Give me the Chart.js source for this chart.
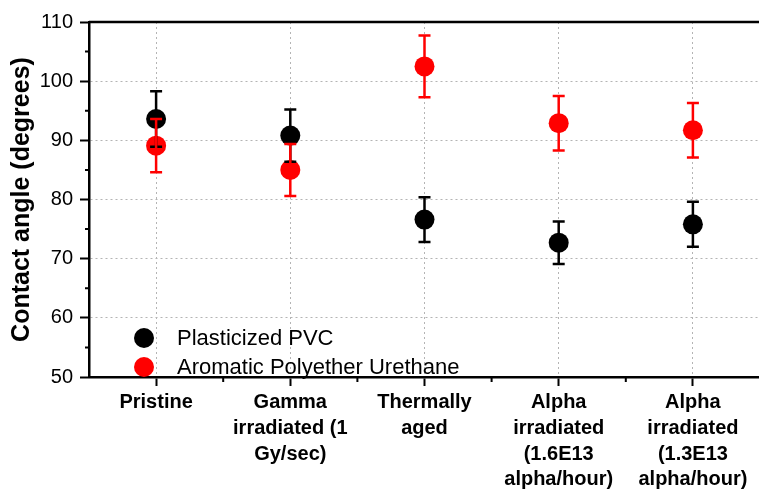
<!DOCTYPE html>
<html>
<head>
<meta charset="utf-8">
<script src="https://cdn.jsdelivr.net/npm/chart.js@4.4.0/dist/chart.umd.min.js"></script>
<style>
  html, body { margin: 0; padding: 0; background: #fff; overflow: hidden; }
  #wrap { position: relative; width: 770px; height: 490px; }
</style>
</head>
<body>
<div id="wrap"><canvas id="contactAngle"></canvas></div>
<script>
// Categorieen en meetwaarden
var categories = [
    'Pristine',
    ['Gamma', 'irradiated (1', 'Gy/sec)'],
    ['Thermally', 'aged'],
    ['Alpha', 'irradiated', '(1.6E13', 'alpha/hour)'],
    ['Alpha', 'irradiated', '(1.3E13', 'alpha/hour)']
];
var pvcAngle = [93.6, 90.8, 76.6, 72.7, 75.8];
var pvcError = [4.7, 4.4, 3.8, 3.6, 3.8];
var urethaneAngle = [89.1, 85.0, 102.5, 92.9, 91.7];
var urethaneError = [4.5, 4.4, 5.2, 4.6, 4.6];
var yTicks = [50, 60, 70, 80, 90, 100, 110];

var FONT = "'Liberation Sans', Arial, sans-serif";
Chart.defaults.color = '#000';
Chart.defaults.font.family = FONT;

// Foutbalken, kleine streepjes, bovenrand en legenda
var extras = {
    id: 'extras',
    afterDatasetsDraw: function(chart) {
        var c = chart.ctx;
        var y = chart.scales.y;
        chart.data.datasets.forEach(function(ds, di) {
            var meta = chart.getDatasetMeta(di);
            c.save();
            c.strokeStyle = ds.backgroundColor;
            c.lineWidth = 2.5;
            ds.errors.forEach(function(err, i) {
                var x = meta.data[i].x;
                var top = y.getPixelForValue(ds.data[i] + err);
                var bot = y.getPixelForValue(ds.data[i] - err);
                c.beginPath();
                c.moveTo(x, top); c.lineTo(x, bot);
                c.moveTo(x - 6, top); c.lineTo(x + 6, top);
                c.moveTo(x - 6, bot); c.lineTo(x + 6, bot);
                c.stroke();
            });
            c.restore();
        });
    },
    afterDraw: function(chart) {
        var c = chart.ctx;
        var a = chart.chartArea;
        var x = chart.scales.x;
        var y = chart.scales.y;
        c.save();
        c.strokeStyle = '#000';
        c.lineWidth = 2;
        c.beginPath();
        // kleine streepjes y-as
        for (var v = 55; v < 110; v += 10) {
            var py = y.getPixelForValue(v);
            c.moveTo(a.left - 4, py); c.lineTo(a.left, py);
        }
        // kleine streepjes x-as
        var half = (x.getPixelForValue(1) - x.getPixelForValue(0)) / 2;
        for (var i = 0; i < categories.length; i++) {
            var px = x.getPixelForValue(i) + half;
            c.moveTo(px, a.bottom); c.lineTo(px, a.bottom + 5);
        }
        c.stroke();
        // bovenrand
        c.lineWidth = 2.5;
        c.beginPath();
        c.moveTo(a.left, a.top); c.lineTo(a.right, a.top);
        c.stroke();
        // legenda
        c.font = '22px ' + FONT;
        c.textBaseline = 'middle';
        chart.data.datasets.forEach(function(ds, di) {
            var ly = 338 + di * 29;
            c.fillStyle = ds.backgroundColor;
            c.beginPath();
            c.arc(144, ly, 10, 0, Math.PI * 2);
            c.fill();
            c.fillStyle = '#000';
            c.fillText(ds.label, 177, ly + 1);
        });
        c.restore();
    }
};

var ctx = document.getElementById('contactAngle').getContext('2d');
var contactAngle = new Chart(ctx, {
    type: 'line',
    data: {
        labels: categories,
        datasets: [{
            label: 'Plasticized PVC',
            data: pvcAngle,
            errors: pvcError,
            backgroundColor: '#000000',
            borderColor: '#000000',
            showLine: false,
            pointRadius: 10,
            pointBorderWidth: 0
        }, {
            label: 'Aromatic Polyether Urethane',
            data: urethaneAngle,
            errors: urethaneError,
            backgroundColor: '#ff0000',
            borderColor: '#ff0000',
            showLine: false,
            pointRadius: 10,
            pointBorderWidth: 0
        }]
    },
    options: {
        responsive: true,
        maintainAspectRatio: false,
        animation: false,
        events: [],
        layout: { padding: { top: 22, right: 6, left: 0, bottom: 0 } },
        plugins: { legend: { display: false }, tooltip: { enabled: false } },
        scales: {
            x: {
                type: 'category',
                offset: true,
                afterFit: function(s) { s.height = 113; },
                border: { color: '#000', width: 2.5, dash: [2, 3] },
                grid: {
                    color: '#b4b4b4',
                    lineWidth: 1,
                    tickColor: '#000',
                    tickWidth: 2,
                    tickLength: 9,
                    tickBorderDash: []
                },
                ticks: {
                    autoSkip: false,
                    maxRotation: 0,
                    padding: 4,
                    font: { size: 20, weight: 'bold', lineHeight: 1.28 }
                }
            },
            y: {
                min: 50,
                max: 110,
                afterFit: function(s) { s.width = 89; },
                border: { color: '#000', width: 2.5, dash: [2, 3] },
                grid: {
                    color: function(c) {
                        var v = c.tick ? c.tick.value : 0;
                        return (yTicks.indexOf(v) > 0 && v < 110) ? '#b4b4b4' : 'rgba(0,0,0,0)';
                    },
                    lineWidth: 1,
                    tickColor: function(c) {
                        return (c.tick && yTicks.indexOf(c.tick.value) >= 0) ? '#000' : 'rgba(0,0,0,0)';
                    },
                    tickWidth: 2,
                    tickLength: 9,
                    tickBorderDash: []
                },
                ticks: {
                    stepSize: 5,
                    padding: 7,
                    font: { size: 20 },
                    callback: function(v) { return yTicks.indexOf(v) >= 0 ? v : ''; }
                },
                title: {
                    display: true,
                    text: 'Contact angle (degrees)',
                    font: { size: 25, weight: 'bold' },
                    padding: { top: 7, bottom: 0 }
                }
            }
        }
    },
    plugins: [extras]
});
</script>
</body>
</html>
